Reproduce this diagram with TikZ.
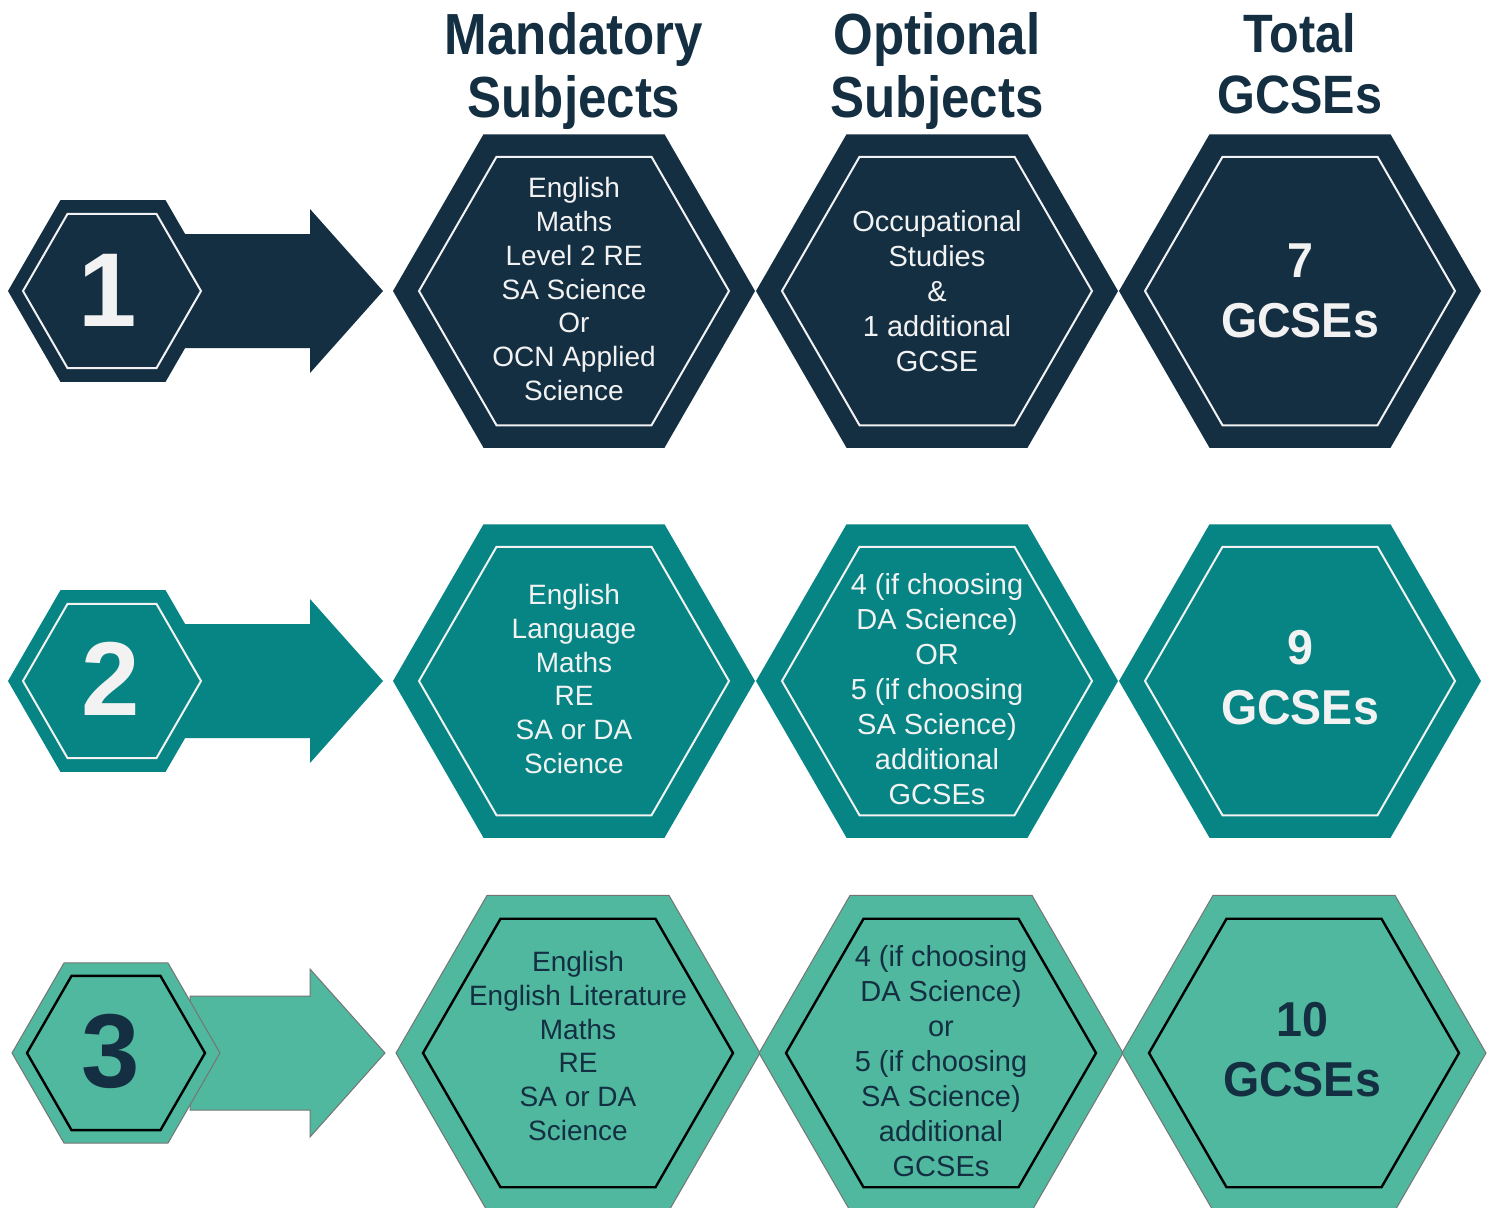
\documentclass[tikz,border=0pt]{standalone}
\usepackage{fontspec}
\setmainfont{Liberation Sans}
\newfontfamily\condfont[FakeStretch=0.88]{Liberation Sans}
\newfontfamily\totfont[FakeStretch=0.95]{Liberation Sans}
\newfontfamily\totheadfont[FakeStretch=0.9]{Liberation Sans}
\definecolor{navy}{HTML}{142F42}
\definecolor{tealA}{HTML}{068584}
\definecolor{tealB}{HTML}{4FB89E}
\definecolor{txtw}{HTML}{F2F2F2}
\definecolor{edgegray}{HTML}{757575}
\newcommand\hexshape[4]{%
  \path[#1,shift={(#2,#3)}] (0:#4) -- (60:#4) -- (120:#4) -- (180:#4) -- (240:#4) -- (300:#4) -- cycle;}
\newcommand\arrowshape[3]{% options, cy, tip x
  \path[#1] (150,#2-57) -- (310,#2-57) -- (310,#2-82) -- (#3,#2) -- (310,#2+82) -- (310,#2+57) -- (150,#2+57) -- cycle;}
\begin{document}
\begin{tikzpicture}[x=0.5pt,y=-0.5pt,
  headtxt/.style={align=center,text=navy,font=\condfont\bfseries\fontsize{29}{31.5}\selectfont},
  totheadtxt/.style={align=center,text=navy,font=\totheadfont\bfseries\fontsize{27}{30.5}\selectfont},
  mandtxt/.style={align=center,font=\fontsize{14}{16.85}\selectfont},
  opttxt/.style={align=center,font=\fontsize{14.5}{17.5}\selectfont},
  tottxt/.style={align=center,font=\totfont\bfseries\fontsize{24.5}{30}\selectfont},
  numtxt/.style={font=\bfseries\fontsize{52.5}{60}\selectfont},
  fillA/.style={fill=navy},
  fillB/.style={fill=tealA},
  fillC/.style={fill=tealB,draw=edgegray,line width=0.5pt},
  innerAB/.style={draw=txtw,line width=1pt},
  innerC/.style={draw=black,line width=1.2pt}]
\useasboundingbox (0,0) rectangle (1492,1207);
\fill[white] (0,0) rectangle (1492,1207);

% headers
\node[headtxt] (hM) at (574,71) {Mandatory\\Subjects};
\node[headtxt] (hO) at (937,71) {Optional\\Subjects};
\node[totheadtxt] (hT) at (1300,64) {Total\\GCSEs};

% row 1
\arrowshape{fillA}{291}{383}
\hexshape{fillA}{113}{291}{105}
\hexshape{innerAB}{112}{291}{89}
\node[numtxt,text=txtw] (n1) at (108,290) {1};
\hexshape{fillA}{574}{291}{181}
\hexshape{innerAB}{574}{291}{155}
\hexshape{fillA}{937}{291}{181}
\hexshape{innerAB}{937}{291}{155}
\hexshape{fillA}{1300}{291}{181}
\hexshape{innerAB}{1300}{291}{155}
\node[mandtxt,text=txtw] (m1) at (574,289) {English\\Maths\\Level 2 RE\\SA Science\\Or\\OCN Applied\\Science};
\node[opttxt,text=txtw] (o1) at (937,291) {Occupational\\Studies\\\&\\1 additional\\GCSE};
\node[tottxt,text=txtw] (t1) at (1300,291) {7\\GCSEs};

% row 2
\arrowshape{fillB}{681}{383}
\hexshape{fillB}{113}{681}{105}
\hexshape{innerAB}{112}{681}{89}
\node[numtxt,text=txtw] (n2) at (111,679) {2};
\hexshape{fillB}{574}{681}{181}
\hexshape{innerAB}{574}{681}{155}
\hexshape{fillB}{937}{681}{181}
\hexshape{innerAB}{937}{681}{155}
\hexshape{fillB}{1300}{681}{181}
\hexshape{innerAB}{1300}{681}{155}
\node[mandtxt,text=txtw] (m2) at (574,679) {English\\Language\\Maths\\RE\\SA or DA\\Science};
\node[opttxt,text=txtw] (o2) at (937,689) {4 (if choosing\\DA Science)\\OR\\5 (if choosing\\SA Science)\\additional\\GCSEs};
\node[tottxt,text=txtw] (t2) at (1300,678) {9\\GCSEs};

% row 3
\path[fillC] (190,1053-57) -- (310,1053-57) -- (310,1053-84) -- (385,1053) -- (310,1053+84) -- (310,1053+57) -- (190,1053+57) -- cycle;
\hexshape{fillC}{116}{1053}{104}
\hexshape{innerC}{116}{1053}{89}
\node[numtxt,text=navy] (n3) at (111,1051) {3};
\hexshape{fillC}{578}{1053}{182}
\hexshape{innerC}{578}{1053}{155}
\hexshape{fillC}{941}{1053}{182}
\hexshape{innerC}{941}{1053}{155}
\hexshape{fillC}{1304}{1053}{182}
\hexshape{innerC}{1304}{1053}{155}
\node[mandtxt,text=navy] (m3) at (578,1046) {English\\English Literature\\Maths\\RE\\SA or DA\\Science};
\node[opttxt,text=navy] (o3) at (941,1061) {4 (if choosing\\DA Science)\\or\\5 (if choosing\\SA Science)\\additional\\GCSEs};
\node[tottxt,text=navy] (t3) at (1302,1050) {10\\GCSEs};
\end{tikzpicture}
\end{document}
